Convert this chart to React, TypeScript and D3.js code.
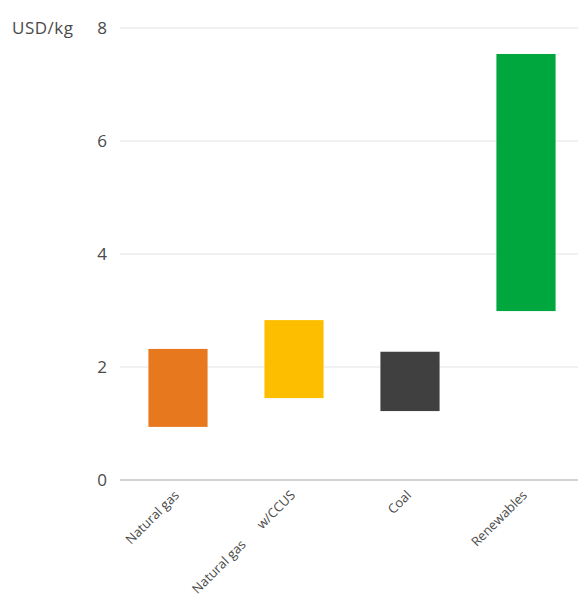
import React from "react";
import * as d3 from "d3";

const categories = ["Natural gas", "Natural gas w/CCUS", "Coal", "Renewables"];
const lowValues = [0.94, 1.45, 1.22, 2.99];
const highValues = [2.32, 2.83, 2.27, 7.54];
const colors = ["#E8781E", "#FDBE00", "#404040", "#00A63E"];
const yTicks = [0, 2, 4, 6, 8];
const unitLabel = "USD/kg";

const W = 578;
const H = 602;

export default function App() {
  const y = d3.scaleLinear().domain([0, 8]).range([480, 28]);
  const x = d3.scaleBand().domain(categories).range([120, 584]).paddingInner(0.49).paddingOuter(0.245);
  const font = "'Open Sans', 'Noto Sans', sans-serif";
  const textColor = "#4a4a4a";
  return (
    <svg width={W} height={H} style={{ position: "absolute", left: 0, top: 0, background: "#fff" }}>
      {yTicks.map((t) => (
        <g key={t}>
          <line x1={120} x2={W} y1={y(t)} y2={y(t)} stroke={t === 0 ? "#c4c4c4" : "#e3e3e3"} strokeWidth={t === 0 ? 1.5 : 1} />
          <text x={107} y={y(t)} dy="0.35em" textAnchor="end" fontSize={17} fontFamily={font} fill={textColor}>
            {t}
          </text>
        </g>
      ))}
      <text x={12} y={y(8)} dy="0.35em" fontSize={17} fontFamily={font} fill={textColor} letterSpacing={0.5}>
        {unitLabel}
      </text>
      {categories.map((c, i) => (
        <rect key={c} x={x(c)} width={x.bandwidth()} y={y(highValues[i])} height={y(lowValues[i]) - y(highValues[i])} fill={colors[i]} />
      ))}
      {categories.map((c) => {
        const cx = (x(c) as number) + x.bandwidth() / 2;
        const parts = c.includes("w/") ? ["Natural gas", "w/CCUS"] : [c];
        return (
          <text
            key={c}
            transform={`translate(${cx + 2},${496}) rotate(-45)`}
            textAnchor="end"
            fontSize={13}
            fontFamily={font}
            fill={textColor}
          >
            {parts.length === 1 ? (
              parts[0]
            ) : (
              <>
                <tspan>{parts[0]}</tspan>
                <tspan dx={22}>{parts[1]}</tspan>
              </>
            )}
          </text>
        );
      })}
    </svg>
  );
}
